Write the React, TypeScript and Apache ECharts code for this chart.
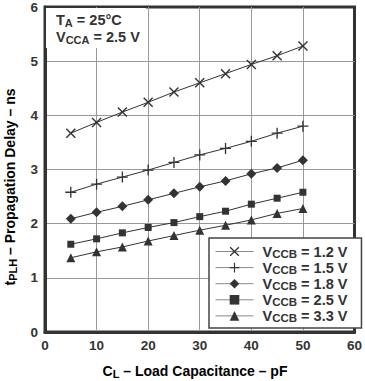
import React, { useEffect, useRef } from "react";
import * as echarts from "echarts";

const loadCapacitance = [5, 10, 15, 20, 25, 30, 35, 40, 45, 50];
const vccb12 = [3.67, 3.87, 4.06, 4.24, 4.43, 4.6, 4.77, 4.94, 5.1, 5.28];
const vccb15 = [2.58, 2.73, 2.86, 2.99, 3.13, 3.27, 3.39, 3.52, 3.67, 3.8];
const vccb18 = [2.09, 2.21, 2.32, 2.44, 2.56, 2.68, 2.79, 2.92, 3.03, 3.17];
const vccb25 = [1.62, 1.72, 1.83, 1.93, 2.02, 2.13, 2.23, 2.36, 2.47, 2.58];
const vccb33 = [1.37, 1.48, 1.57, 1.68, 1.78, 1.88, 1.97, 2.07, 2.19, 2.28];
const vccbLabels = ["1.2", "1.5", "1.8", "2.5", "3.3"];
const xAxisRange = [0, 60, 10];
const yAxisRange = [0, 6, 1];

const FONT = "'Liberation Sans', Arial, sans-serif";
const DARK = "#333";

const CROSS_X = "path://M0,1L1,0L5,4L9,0L10,1L6,5L10,9L9,10L5,6L1,10L0,9L4,5Z";
const PLUS = "path://M4.4,0L5.6,0L5.6,4.4L10,4.4L10,5.6L5.6,5.6L5.6,10L4.4,10L4.4,5.6L0,5.6L0,4.4L4.4,4.4Z";

const seriesData = [vccb12, vccb15, vccb18, vccb25, vccb33];
const symbols = [CROSS_X, PLUS, "diamond", "rect", "triangle"];
const symbolSizes = [10, 11, 10, 7, 9];

export default function App() {
  const ref = useRef<HTMLDivElement>(null);
  useEffect(() => {
    if (!ref.current) return;
    const chart = echarts.init(ref.current, undefined, { renderer: "svg" });
    const mainRich = (size: number, lh: number) => ({
      fontSize: size,
      fontWeight: "bold",
      fontFamily: FONT,
      color: DARK,
      lineHeight: lh,
    });
    const subRich = (size: number, lh: number) => ({
      fontSize: size,
      fontWeight: "bold",
      fontFamily: FONT,
      color: DARK,
      lineHeight: lh,
      verticalAlign: "bottom",
    });
    chart.setOption({
      animation: false,
      backgroundColor: "#fff",
      title: {
        left: 46,
        top: 7,
        padding: [4, 6, 3, 10],
        backgroundColor: "#fff",
        text: "{m|T}{s|A}{m| = 25°C}\n{m|V}{s|CCA}{m| = 2.5 V}",
        textStyle: {
          rich: { m: mainRich(14.5, 17), s: subRich(11, 8) },
        },
      },
      grid: {
        left: 45,
        right: 7,
        top: 5,
        bottom: 49,
        show: true,
        borderColor: DARK,
        borderWidth: 3,
        backgroundColor: "transparent",
      },
      xAxis: {
        type: "value",
        min: xAxisRange[0],
        max: xAxisRange[1],
        interval: xAxisRange[2],
        axisLine: { show: true, lineStyle: { color: DARK, width: 3 } },
        axisTick: { show: false },
        axisLabel: {
          margin: 6,
          fontSize: 13.5,
          fontWeight: "bold",
          fontFamily: FONT,
          color: DARK,
        },
        splitLine: { show: true, showMinLine: false, showMaxLine: false, lineStyle: { color: "#999", width: 1 } },
      },
      yAxis: {
        type: "value",
        min: yAxisRange[0],
        max: yAxisRange[1],
        interval: yAxisRange[2],
        axisLine: { show: true, lineStyle: { color: DARK, width: 3 } },
        axisTick: { show: false },
        axisLabel: {
          margin: 7,
          fontSize: 13.5,
          fontWeight: "bold",
          fontFamily: FONT,
          color: DARK,
        },
        splitLine: { show: true, showMinLine: false, showMaxLine: false, lineStyle: { color: "#999", width: 1 } },
      },
      legend: {
        orient: "vertical",
        left: 209,
        top: 238,
        backgroundColor: "#fff",
        borderColor: "#444",
        borderWidth: 1.5,
        padding: [6, 14, 4, 6],
        itemWidth: 38,
        itemHeight: 12,
        itemGap: 0.6,
        lineStyle: { color: "#888", width: 1 },
        data: vccbLabels,
        formatter: (name: string) => `{p|V}{s|CCB}{m| = ${name} V}`,
        textStyle: {
          rich: {
            p: { ...mainRich(14.5, 16), padding: [0, 0, 0, 4] },
            m: mainRich(14.5, 16),
            s: subRich(11.5, 8),
          },
        },
      },
      graphic: [
        {
          type: "text",
          x: 195,
          y: 371,
          style: {
            text: "{m|C}{s|L}{m| – Load Capacitance – pF}",
            textAlign: "center",
            textVerticalAlign: "middle",
            rich: { m: mainRich(14, 16), s: subRich(11, 8) },
          },
        },
        {
          type: "text",
          x: 10,
          y: 187,
          rotation: Math.PI / 2,
          style: {
            text: "{m|t}{s|PLH}{m| – Propagation Delay – ns}",
            textAlign: "center",
            textVerticalAlign: "middle",
            rich: { m: mainRich(14, 16), s: subRich(11, 8) },
          },
        },
      ],
      series: seriesData.map((values, i) => ({
        name: vccbLabels[i],
        type: "line",
        data: loadCapacitance.map((x, j) => [x, values[j]]),
        symbol: symbols[i],
        symbolSize: symbolSizes[i],
        showAllSymbol: true,
        lineStyle: { color: DARK, width: 1 },
        itemStyle: { color: DARK },
        z: 3,
      })),
    });
    return () => chart.dispose();
  }, []);
  return <div ref={ref} style={{ width: 365, height: 381, position: "absolute", left: 0, top: 0 }} />;
}
